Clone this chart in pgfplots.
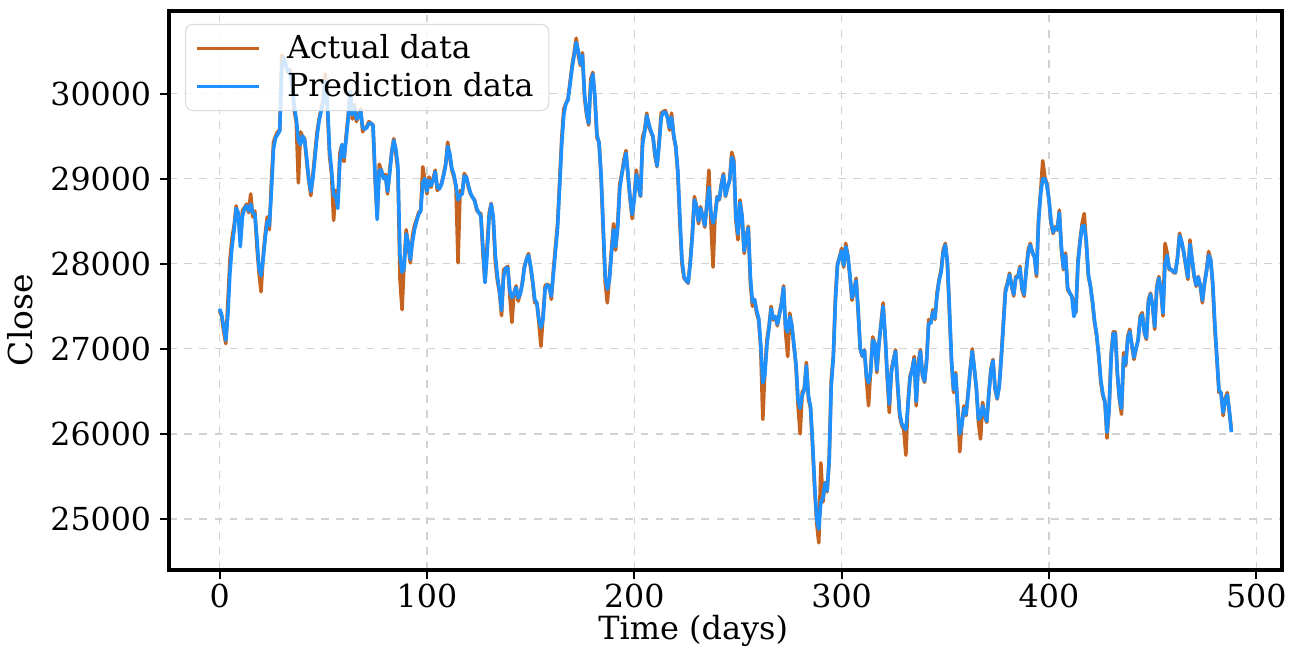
\documentclass[border=0pt]{standalone}
\usepackage{fontspec}
\setmainfont{DejaVu Serif}
\usepackage{pgfplots}
\usepackage{pgfplotstable}
\pgfplotsset{compat=1.18}
\usetikzlibrary{calc}
\definecolor{actualc}{RGB}{196,100,32}
\definecolor{predc}{RGB}{30,144,255}

% day, actual close, predicted close
\pgfplotstableread{
day actual pred
0 27450 27470
1 27380 27400
2 27200 27250
3 27060 27100
4 27550 27400
5 28050 27900
6 28300 28200
7 28450 28400
8 28680 28650
9 28550 28600
10 28300 28200
11 28620 28550
12 28660 28650
13 28700 28680
14 28600 28620
15 28820 28700
16 28550 28600
17 28620 28580
18 28200 28300
19 27900 27950
20 27670 27860
21 28090 28050
22 28350 28300
23 28550 28500
24 28400 28450
25 28970 28850
26 29430 29350
27 29500 29480
28 29550 29520
29 29570 29560
30 30450 30300
31 30380 30420
32 30320 30330
33 30250 30260
34 30280 30250
35 30090 30100
36 29800 29850
37 29660 29700
38 28950 29450
39 29550 29400
40 29500 29500
41 29470 29450
42 29200 29250
43 28980 29000
44 28800 28850
45 29050 29000
46 29300 29250
47 29550 29500
48 29700 29680
49 29820 29800
50 29930 29900
51 30230 30150
52 29820 29900
53 29280 29350
54 29050 29100
55 28510 28800
56 28860 28800
57 28700 28650
58 29300 29200
59 29400 29400
60 29200 29250
61 29500 29450
62 29740 29700
63 30030 30020
64 29700 29750
65 29870 29850
66 29670 29700
67 29750 29720
68 29820 29800
69 29550 29600
70 29600 29580
71 29610 29600
72 29670 29650
73 29650 29650
74 29630 29620
75 28980 29050
76 28550 28520
77 29170 29100
78 29100 29100
79 29010 29000
80 29050 29030
81 28820 28850
82 29100 29050
83 29320 29300
84 29470 29450
85 29300 29350
86 29090 29150
87 27820 28100
88 27460 27900
89 28010 27950
90 28400 28350
91 28200 28250
92 28010 28050
93 28320 28250
94 28450 28400
95 28520 28500
96 28600 28580
97 28630 28620
98 29140 28950
99 28980 29000
100 28820 28850
101 29020 28980
102 28900 28920
103 29000 28980
104 29100 29080
105 28860 28900
106 28900 28880
107 28940 28930
108 29050 29030
109 29170 29150
110 29430 29380
111 29250 29300
112 29100 29120
113 29020 29050
114 28900 28920
115 28010 28750
116 28860 28800
117 28820 28820
118 29060 29030
119 29020 29020
120 28900 28920
121 28820 28830
122 28780 28780
123 28750 28740
124 28630 28650
125 28600 28600
126 28590 28560
127 28120 28200
128 27780 27780
129 28200 28100
130 28590 28550
131 28710 28700
132 28510 28550
133 28010 28100
134 27800 27850
135 27660 27680
136 27390 27450
137 27930 27850
138 27950 27950
139 27970 27950
140 27620 27680
141 27310 27600
142 27660 27650
143 27740 27720
144 27560 27600
145 27650 27640
146 27780 27760
147 27970 27950
148 28050 28050
149 28120 28100
150 27950 27980
151 27780 27800
152 27540 27580
153 27540 27540
154 27310 27350
155 27030 27250
156 27390 27350
157 27740 27700
158 27760 27750
159 27740 27720
160 27580 27620
161 27930 27880
162 28200 28150
163 28470 28420
164 28970 28900
165 29470 29400
166 29820 29750
167 29880 29880
168 29940 29920
169 30130 30100
170 30330 30300
171 30480 30450
172 30650 30600
173 30450 30500
174 30330 30350
175 30480 30450
176 29950 30000
177 29750 29780
178 29630 29650
179 30170 30100
180 30250 30230
181 29940 29980
182 29480 29520
183 29430 29420
184 29010 29050
185 28390 28450
186 27780 27850
187 27540 27700
188 27850 27800
189 28160 28120
190 28470 28400
191 28160 28200
192 28470 28420
193 28940 28880
194 29060 29050
195 29220 29180
196 29330 29300
197 29020 29050
198 28750 28780
199 28530 28580
200 28800 28750
201 29100 29050
202 28900 28920
203 28790 28800
204 29490 29400
205 29570 29550
206 29770 29740
207 29610 29650
208 29550 29560
209 29490 29500
210 29260 29300
211 29140 29150
212 29450 29400
213 29770 29720
214 29790 29780
215 29800 29780
216 29720 29720
217 29570 29600
218 29770 29720
219 29490 29520
220 29370 29380
221 29060 29100
222 28470 28550
223 28000 28050
224 27830 27850
225 27800 27800
226 27770 27780
227 28040 28000
228 28360 28320
229 28790 28750
230 28670 28680
231 28470 28500
232 28670 28650
233 28550 28560
234 28430 28450
235 28710 28680
236 29100 28900
237 28470 28600
238 27960 28480
239 28590 28560
240 28790 28780
241 28750 28760
242 28940 28920
243 29060 29040
244 28790 28800
245 28900 28900
246 28980 28980
247 29310 29250
248 29220 29200
249 28510 28550
250 28280 28350
251 28750 28720
252 28550 28560
253 28120 28150
254 28320 28300
255 28440 28420
256 27770 27850
257 27500 27550
258 27580 27580
259 27420 27450
260 27340 27360
261 27000 27050
262 26170 26600
263 26760 26700
264 27110 27050
265 27270 27250
266 27500 27470
267 27340 27360
268 27380 27380
269 27270 27290
270 27420 27400
271 27540 27520
272 27740 27720
273 27190 27250
274 26910 27200
275 27420 27380
276 27270 27280
277 27030 27050
278 26800 26820
279 26330 26400
280 26000 26300
281 26490 26450
282 26530 26520
283 26840 26800
284 26410 26450
285 26300 26320
286 25850 25900
287 25350 25400
288 24950 25000
289 24720 24880
290 25660 25200
291 25200 25250
292 25430 25420
293 25320 25330
294 25700 25680
295 26640 26550
296 26910 26900
297 27610 27550
298 28000 27980
299 28080 28070
300 28180 28150
301 27960 27980
302 28240 28200
303 28080 28100
304 27850 27870
305 27570 27600
306 27690 27680
307 27830 27800
308 27420 27450
309 26990 27000
310 26910 26920
311 26990 26980
312 26640 26680
313 26330 26600
314 26760 26720
315 27140 27100
316 27060 27070
317 26720 26750
318 27070 27050
319 27300 27280
320 27540 27500
321 27140 27170
322 26660 26700
323 26250 26350
324 26760 26720
325 26870 26860
326 26990 26970
327 26560 26600
328 26210 26250
329 26100 26120
330 26050 26080
331 25750 26050
332 26370 26330
333 26680 26650
334 26760 26750
335 26910 26880
336 26330 26380
337 26840 26800
338 26990 26970
339 26680 26700
340 26605 26620
341 26875 26850
342 27345 27300
343 27305 27300
344 27460 27430
345 27345 27360
346 27655 27620
347 27815 27800
348 27930 27900
349 28165 28130
350 28240 28220
351 28010 28030
352 27425 27480
353 26840 26880
354 26485 26520
355 26720 26700
356 26290 26320
357 25790 26000
358 26135 26100
359 26330 26300
360 26215 26230
361 26485 26460
362 26760 26740
363 27000 26970
364 26760 26780
365 26525 26540
366 26135 26170
367 25940 26200
368 26370 26330
369 26215 26230
370 26135 26150
371 26485 26460
372 26760 26740
373 26875 26860
374 26525 26550
375 26410 26420
376 26565 26550
377 26915 26880
378 27305 27270
379 27695 27660
380 27775 27760
381 27890 27870
382 27735 27750
383 27620 27640
384 27850 27830
385 27850 27840
386 27970 27950
387 27695 27720
388 27617 27640
389 27930 27900
390 28165 28130
391 28240 28220
392 28125 28140
393 28085 28080
394 27850 27880
395 28550 28500
396 28850 28820
397 29210 29000
398 29020 29000
399 28940 28920
400 28745 28760
401 28475 28500
402 28355 28370
403 28435 28420
404 28395 28400
405 28630 28600
406 28165 28200
407 27930 27950
408 28125 28100
409 27695 27720
410 27655 27660
411 27617 27620
412 27540 27380
413 27425 27450
414 28045 28000
415 28280 28250
416 28475 28440
417 28590 28450
418 28240 28270
419 27850 27880
420 27735 27740
421 27540 27560
422 27305 27330
423 27150 27170
424 26915 26930
425 26605 26640
426 26450 26470
427 26370 26380
428 25950 26020
429 26300 26280
430 26950 26900
431 27200 27180
432 27200 27180
433 26700 26720
434 26400 26420
435 26230 26300
436 26955 26900
437 26800 26820
438 27150 27120
439 27230 27200
440 27030 27050
441 26875 26900
442 27000 27000
443 27110 27100
444 27385 27360
445 27425 27400
446 27190 27200
447 27110 27130
448 27580 27550
449 27655 27640
450 27500 27510
451 27230 27260
452 27735 27700
453 27850 27830
454 27695 27700
455 27385 27420
456 28240 28000
457 28125 28100
458 27930 27950
459 27930 27930
460 27900 27910
461 27890 27900
462 28085 28060
463 28360 28330
464 28250 28260
465 28125 28140
466 27970 27990
467 27815 27840
468 28280 28230
469 28045 28060
470 27850 27870
471 27735 27750
472 27850 27840
473 27735 27750
474 27540 27570
475 27775 27760
476 27930 27910
477 28145 28100
478 28045 28050
479 27735 27780
480 27230 27300
481 26875 26900
482 26485 26520
483 26485 26480
484 26215 26250
485 26410 26390
486 26485 26460
487 26255 26280
488 26050 26020
}\closedata

\begin{document}
\begin{tikzpicture}
\begin{axis}[
  scale only axis,
  width=15.43cm, height=7.75cm,
  xmin=-24.4, xmax=512.4,
  ymin=24400, ymax=30970,
  xtick={0,100,...,500},
  ytick={25000,26000,...,30000},
  xtick pos=bottom, ytick pos=left,
  scaled y ticks=false,
  yticklabel style={/pgf/number format/1000 sep={}},
  xticklabel style={yshift=1.5pt},
  tick label style={font=\fontsize{12.5}{14}\selectfont, /pgf/number format/assume math mode=true},
  label style={font=\fontsize{13}{15}\selectfont},
  xlabel={Time (days)},
  ylabel={Close},
  xlabel style={at={(ticklabel cs:0.471)}, yshift=4pt, font=\fontsize{12.6}{14}\selectfont},
  ylabel style={at={(ticklabel cs:0.447)}},
  grid=major,
  major grid style={dashed, gray!35, line width=0.5pt},
  axis line style={line width=1.5pt},
  tick align=outside,
  tick style={black, line width=0.8pt},
  major tick length=3.5pt,
  legend cell align=left,
  legend style={at={(0.0144,0.977)}, anchor=north west,
    draw=gray!30, fill=white, fill opacity=0.8, text opacity=1,
    rounded corners=3pt, font=\fontsize{12.5}{14}\selectfont,
    inner xsep=4pt, inner ysep=2pt},
  legend image code/.code={\draw[#1, line width=1.2pt] (0cm,0cm) -- (0.85cm,0cm); \path (1.15cm,0cm);},
]
  \addplot[actualc, line width=1.4pt, line join=round] table[x=day, y=actual] {\closedata};
  \addlegendentry{Actual data}
  \addplot[predc, line width=1.4pt, line join=round] table[x=day, y=pred] {\closedata};
  \addlegendentry{Prediction data}
\end{axis}
\pgfresetboundingbox
\path[use as bounding box] ($(current axis.south west)+(-2.343cm,-1.1cm)$) rectangle ($(current axis.north east)+(0.222cm,0.153cm)$);
\end{tikzpicture}
\end{document}
